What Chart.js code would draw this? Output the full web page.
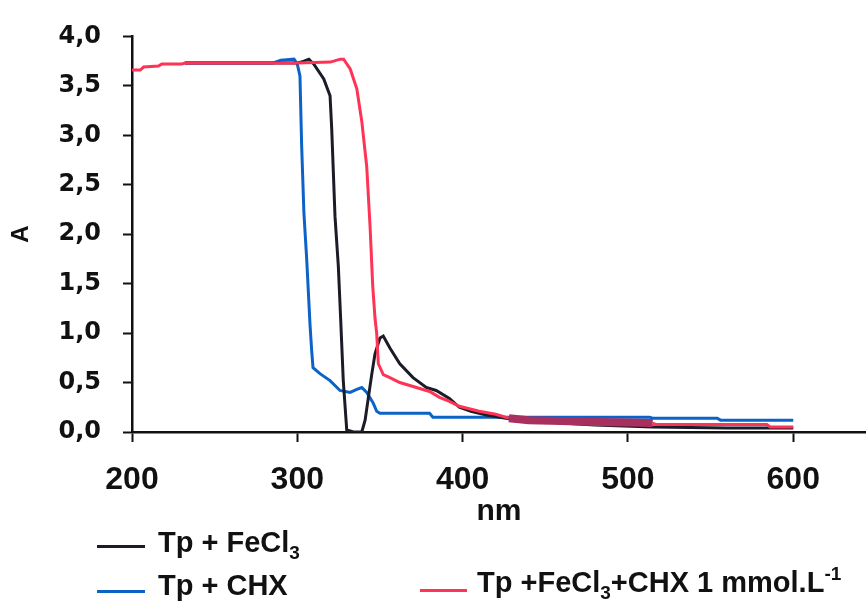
<!DOCTYPE html>
<html>
<head>
<meta charset="utf-8">
<script src="https://cdn.jsdelivr.net/npm/chart.js@4.4.1/dist/chart.umd.min.js"></script>
<style>
  html, body { margin: 0; padding: 0; background: #fff; }
  #wrap { position: relative; width: 866px; height: 601px; }
  #grafico { position: absolute; left: 0; top: 0; }
  .leg-line { position: absolute; height: 3px; }
  .leg-txt {
    position: absolute; white-space: nowrap;
    font: bold 29px "Liberation Sans", Arial, sans-serif; line-height: 29px; color: #111;
  }
  .leg-txt sub { font-size: 19px; vertical-align: -7px; line-height: 0; }
  .leg-txt sup { font-size: 19px; vertical-align: 12px; line-height: 0; }
</style>
</head>
<body>
<div id="wrap">
  <canvas id="grafico" width="866" height="601"></canvas>
  <div class="leg-line" style="left:97px; top:545px; width:48px; background:#1c1c28;"></div>
  <div class="leg-txt" style="left:158px; top:528px;">Tp + FeCl<sub>3</sub></div>
  <div class="leg-line" style="left:97px; top:590px; width:48px; background:#0b63c8;"></div>
  <div class="leg-txt" style="left:158px; top:571px;">Tp + CHX</div>
  <div class="leg-line" style="left:420px; top:589px; width:47px; background:#ff3355;"></div>
  <div class="leg-txt" style="left:477px; top:568px;">Tp +FeCl<sub>3</sub>+CHX 1 mmol.L<sup>-1</sup></div>
</div>
<script>
// espectros de absorção (nm x A)
const nmFeCl3 = [232, 250, 300, 304, 307, 310, 316, 319.8, 320.8, 322.8, 324.8, 326.2, 327.8, 329.9, 334, 339, 341, 343, 345, 347, 350, 352, 356, 362, 370, 378, 384, 392, 398, 405, 415, 430, 450, 480, 515, 560, 600];
const absFeCl3 = [3.73, 3.73, 3.73, 3.75, 3.77, 3.72, 3.57, 3.40, 3.07, 2.18, 1.68, 1.15, 0.52, 0.02, 0.0, 0.0, 0.12, 0.35, 0.58, 0.79, 0.95, 0.97, 0.85, 0.69, 0.55, 0.45, 0.42, 0.34, 0.25, 0.21, 0.17, 0.13, 0.10, 0.07, 0.05, 0.04, 0.04];

const nmCHX = [232, 250, 285, 290, 298, 300, 301.6, 302.6, 304, 305.7, 307.7, 308.7, 309.5, 313.7, 319.8, 325.8, 331.9, 336, 339, 342, 346, 348, 350, 360, 380, 382, 513, 515, 554, 556, 600];
const absCHX = [3.73, 3.73, 3.73, 3.76, 3.77, 3.72, 3.60, 2.91, 2.21, 1.74, 1.08, 0.82, 0.65, 0.59, 0.52, 0.42, 0.40, 0.43, 0.45, 0.40, 0.29, 0.21, 0.19, 0.19, 0.19, 0.15, 0.15, 0.14, 0.14, 0.12, 0.12];

const nmMistura = [200, 205, 207, 216, 218, 230, 232, 300, 320, 326, 328, 332, 336, 339, 342, 344, 345.6, 347, 348, 349, 352, 356, 362, 370, 380, 386, 392, 398, 410, 420, 428, 440, 460, 480, 500, 515, 517, 584, 586, 600];
const absMistura = [3.66, 3.66, 3.69, 3.70, 3.72, 3.72, 3.73, 3.73, 3.74, 3.77, 3.77, 3.67, 3.47, 3.14, 2.68, 2.08, 1.48, 1.15, 1.0, 0.69, 0.58, 0.55, 0.50, 0.46, 0.41, 0.35, 0.31, 0.26, 0.21, 0.18, 0.14, 0.12, 0.11, 0.10, 0.095, 0.09, 0.075, 0.075, 0.05, 0.05];

const xTicks = [200, 300, 400, 500, 600];
const yTicks = [0, 0.5, 1, 1.5, 2, 2.5, 3, 3.5, 4];
const yTickLabels = ['0,0', '0,5', '1,0', '1,5', '2,0', '2,5', '3,0', '3,5', '4,0'];

const pontos = (xs, ys) => xs.map((x, i) => ({ x: x, y: ys[i] }));

// trecho onde as três curvas se sobrepõem
const sobreposicao = ctx =>
  ctx.p0.parsed.x >= 428 && ctx.p1.parsed.x <= 515;

const canvas = document.getElementById('grafico');
const ctx = canvas.getContext('2d');

new Chart(ctx, {
  type: 'line',
  data: {
    datasets: [
      {
        label: 'Tp + FeCl3 + CHX 1 mmol.L-1',
        data: pontos(nmMistura, absMistura),
        borderColor: '#ff3355',
        borderWidth: 3,
        segment: {
          borderColor: c => sobreposicao(c) ? '#a8305e' : undefined,
          borderWidth: c => sobreposicao(c) ? 8 : undefined
        }
      },
      {
        label: 'Tp + FeCl3',
        data: pontos(nmFeCl3, absFeCl3),
        borderColor: '#1c1c28',
        borderWidth: 3
      },
      {
        label: 'Tp + CHX',
        data: pontos(nmCHX, absCHX),
        borderColor: '#0b63c8',
        borderWidth: 3
      }
    ]
  },
  options: {
    responsive: false,
    animation: false,
    layout: { padding: { top: 30, left: 0, right: 0, bottom: 0 } },
    elements: { point: { radius: 0 }, line: { tension: 0, borderCapStyle: 'butt' } },
    plugins: { legend: { display: false }, tooltip: { enabled: false } },
    scales: {
      x: {
        type: 'linear',
        min: 200,
        max: 644,
        afterBuildTicks: s => { s.ticks = xTicks.map(v => ({ value: v })); },
        afterFit: s => { s.height = 169; },
        ticks: {
          color: '#111',
          padding: 19,
          maxRotation: 0,
          font: { family: '"Liberation Sans", Arial', size: 32, weight: 'bold' }
        },
        grid: { drawOnChartArea: false, drawTicks: true, tickLength: 10, tickWidth: 2, tickColor: '#111' },
        border: { color: '#111', width: 2.5 },
        title: {
          display: true,
          text: 'nm',
          color: '#111',
          padding: { top: 0, bottom: 71 },
          font: { family: '"Liberation Sans", Arial', size: 30, weight: 'bold' }
        }
      },
      y: {
        min: 0,
        max: 4,
        afterBuildTicks: s => { s.ticks = yTicks.map(v => ({ value: v })); },
        afterFit: s => { s.width = 132; },
        ticks: {
          color: '#111',
          padding: 22,
          callback: (v, i) => yTickLabels[i],
          font: { family: '"DejaVu Sans"', size: 24, weight: 'bold' }
        },
        grid: { drawOnChartArea: false, drawTicks: true, tickLength: 9, tickWidth: 2, tickColor: '#111' },
        border: { color: '#111', width: 2.5 },
        title: {
          display: true,
          text: 'A',
          color: '#111',
          padding: { top: 7, bottom: 0 },
          font: { family: '"Liberation Sans", Arial', size: 24, weight: 'bold' }
        }
      }
    }
  }
});
</script>
</body>
</html>
